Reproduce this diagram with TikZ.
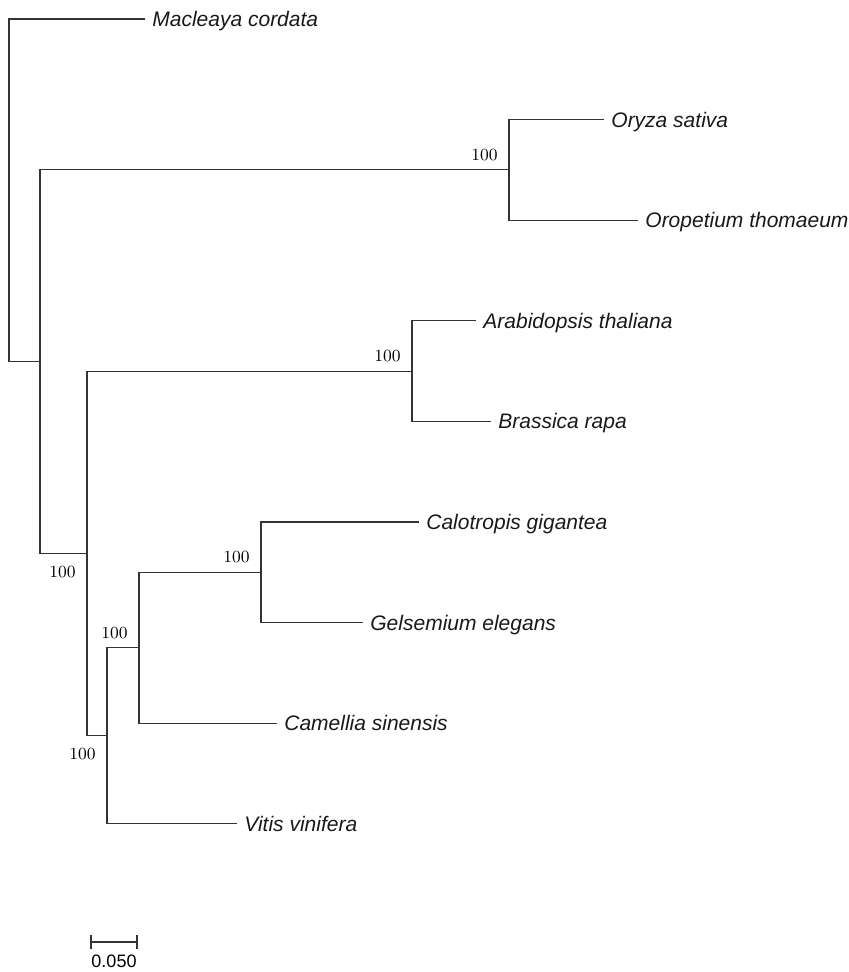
\documentclass[tikz,border=0pt]{standalone}
\usepackage{fontspec}
\newfontfamily\taxonfont{Liberation Sans}
\begin{document}
\begin{tikzpicture}[x=0.5pt,y=-0.5pt,
  branch/.style={draw=black!80,line width=0.55pt},
  taxon/.style={anchor=west,inner sep=3.5pt,text height=7.5pt,text depth=0pt,
    font=\taxonfont\itshape\fontsize{10.5}{12}\selectfont,text=black!90},
  bootup/.style={anchor=south east,inner sep=0pt,xshift=-5.5pt,yshift=4.5pt,
    font=\fontsize{8.5}{10}\selectfont},
  bootdown/.style={anchor=north east,inner sep=0pt,xshift=-5.5pt,yshift=-6pt,
    font=\fontsize{8.5}{10}\selectfont}]

\useasboundingbox (0,0) rectangle (848,972);

% Inner nodes
\coordinate (root) at (9,361.7);
\coordinate (angio) at (40,361.7);
\coordinate (grass) at (509,169.9);
\coordinate (eudicot) at (87,553.4);
\coordinate (brass) at (412,371.1);
\coordinate (core) at (107,735.8);
\coordinate (aster) at (139,647.8);
\coordinate (gent) at (261,572.3);

% Taxa
\node[taxon] (mac) at (145,19) {Macleaya cordata};
\node[taxon] (oryza) at (604,119.6) {Oryza sativa};
\node[taxon] (oropet) at (638,220.2) {Oropetium thomaeum};
\node[taxon] (arab) at (476,320.8) {Arabidopsis thaliana};
\node[taxon] (brapa) at (491,421.4) {Brassica rapa};
\node[taxon] (calo) at (419,522) {Calotropis gigantea};
\node[taxon] (gels) at (363,622.6) {Gelsemium elegans};
\node[taxon] (camel) at (277,723.2) {Camellia sinensis};
\node[taxon] (vitis) at (237,823.8) {Vitis vinifera};

% Branches
\draw[branch] (root) |- (mac.west);
\draw[branch] (root) -- (angio);
\draw[branch] (angio) |- (grass);
\draw[branch] (angio) |- (eudicot);
\draw[branch] (grass) |- (oryza.west);
\draw[branch] (grass) |- (oropet.west);
\draw[branch] (eudicot) |- (brass);
\draw[branch] (eudicot) |- (core);
\draw[branch] (brass) |- (arab.west);
\draw[branch] (brass) |- (brapa.west);
\draw[branch] (core) |- (aster);
\draw[branch] (core) |- (vitis.west);
\draw[branch] (aster) |- (gent);
\draw[branch] (aster) |- (camel.west);
\draw[branch] (gent) |- (calo.west);
\draw[branch] (gent) |- (gels.west);

% Bootstrap values
\node[bootup] (bgrass) at (grass) {100};
\node[bootup] (bbrass) at (brass) {100};
\node[bootup] (bgent) at (gent) {100};
\node[bootup] (baster) at (aster) {100};
\node[bootdown] (beud) at (eudicot) {100};
\node[bootdown] (bcore) at (core) {100};

% Scale bar
\coordinate (sbl) at (91,942);
\coordinate (sbr) at (137,942);
\draw[branch] (sbl) -- (sbr);
\draw[branch] ([yshift=3.5pt]sbl) -- ([yshift=-3.5pt]sbl);
\draw[branch] ([yshift=3.5pt]sbr) -- ([yshift=-3.5pt]sbr);
\node[font=\taxonfont\fontsize{9}{10}\selectfont,inner sep=0pt] (sblabel) at (114,961) {0.050};

\end{tikzpicture}
\end{document}
